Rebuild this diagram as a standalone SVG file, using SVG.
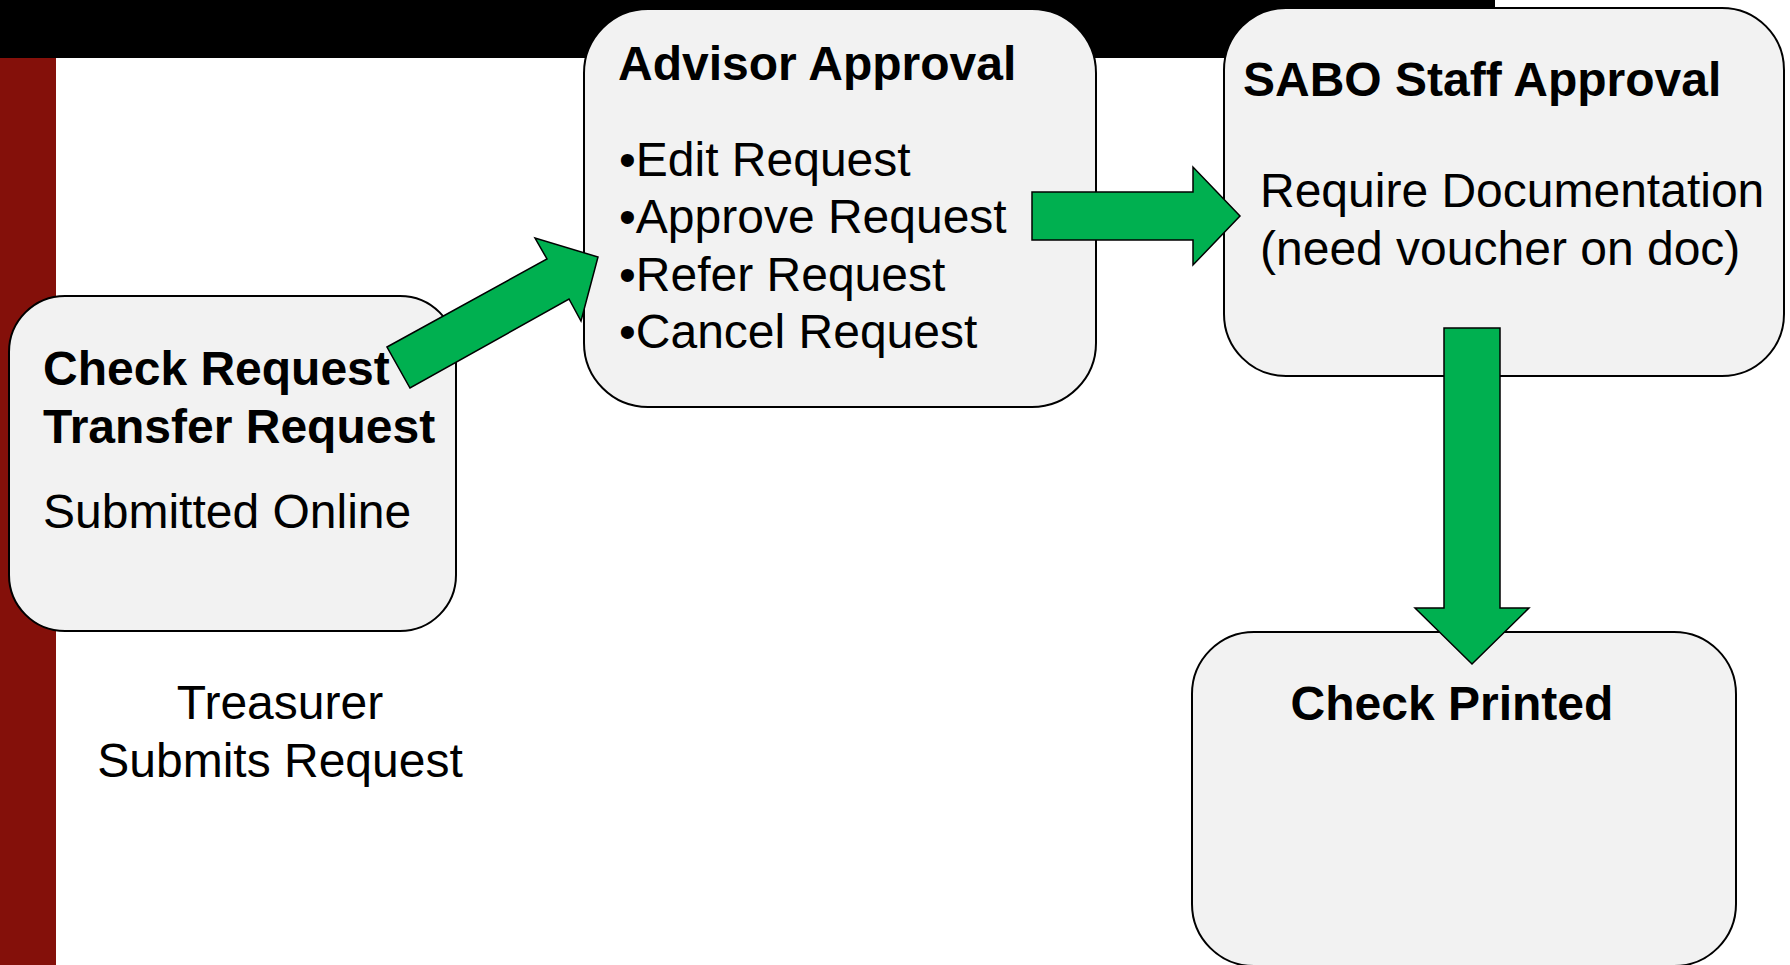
<svg xmlns="http://www.w3.org/2000/svg" width="1790" height="965" viewBox="0 0 1790 965">
<style>
.node{fill:#f2f2f2;stroke:#000;stroke-width:2}
.t{font-family:"Liberation Sans",Arial,sans-serif;font-size:48px;fill:#000}
.b{font-weight:bold}
.arrow{fill:#00b050;stroke:#000;stroke-width:1.5;stroke-linejoin:miter}
</style>
<rect x="0" y="0" width="1790" height="965" fill="#fff"/>
<rect x="0" y="0" width="1495" height="58" fill="#000"/>
<rect x="0" y="58" width="56" height="907" fill="#84100a"/>
<g id="check-request">
<rect class="node" x="9" y="296" width="447" height="335" rx="56" ry="56"/>
<text class="t b" x="43" y="385">Check Request</text>
<text class="t b" x="43" y="443">Transfer Request</text>
<text class="t" x="43" y="528">Submitted Online</text>
</g>
<g id="treasurer-label">
<text class="t" x="280" y="719" text-anchor="middle">Treasurer</text>
<text class="t" x="280" y="777" text-anchor="middle">Submits Request</text>
</g>
<g id="advisor-approval">
<rect class="node" x="584" y="9" width="512" height="398" rx="64" ry="64"/>
<text class="t b" x="618" y="80">Advisor Approval</text>
<text class="t" x="619" y="176">•Edit Request</text>
<text class="t" x="619" y="233">•Approve Request</text>
<text class="t" x="619" y="291">•Refer Request</text>
<text class="t" x="619" y="348">•Cancel Request</text>
</g>
<g id="sabo-staff-approval">
<rect class="node" x="1224" y="8" width="560" height="368" rx="62" ry="62"/>
<text class="t b" x="1243" y="96">SABO Staff Approval</text>
<text class="t" x="1260" y="207">Require Documentation</text>
<text class="t" x="1260" y="265">(need voucher on doc)</text>
</g>
<g id="check-printed">
<rect class="node" x="1192" y="632" width="544" height="334" rx="62" ry="62"/>
<text class="t b" x="1452" y="720" text-anchor="middle">Check Printed</text>
</g>
<g id="connectors">
<polygon class="arrow" points="387,347 547,259 535,238 598,257 581,321 569,299 410,388"/>
<polygon class="arrow" points="1032,192 1193,192 1193,167 1240,216 1193,265 1193,240 1032,240"/>
<polygon class="arrow" points="1444,328 1500,328 1500,608 1529,608 1472,664 1415,608 1444,608"/>
</g>
</svg>
